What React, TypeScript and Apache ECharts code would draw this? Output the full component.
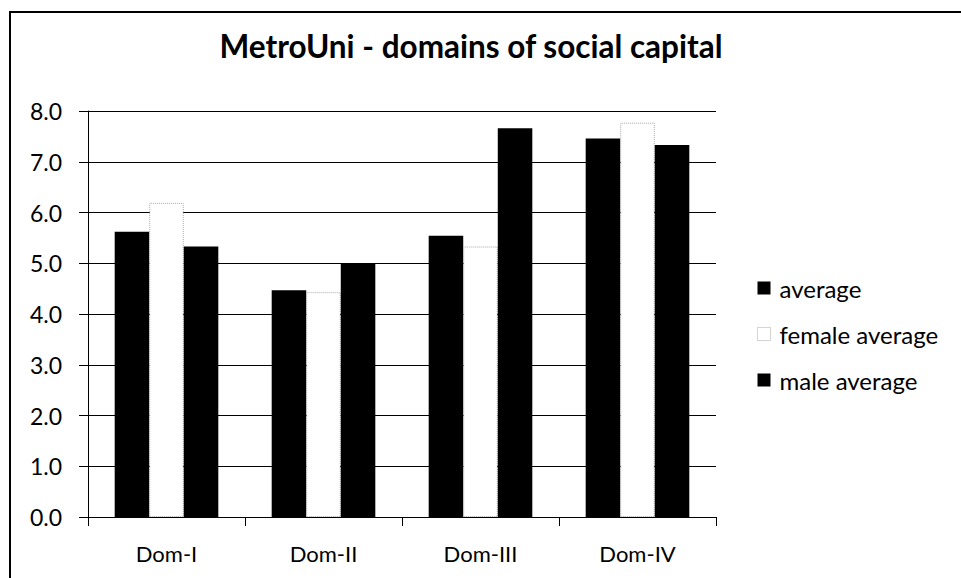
import React, { useEffect, useRef } from "react";
import * as echarts from "echarts";

const categories = ["Dom-I", "Dom-II", "Dom-III", "Dom-IV"];
const averageValues = [5.62, 4.47, 5.54, 7.46];
const femaleValues = [6.19, 4.43, 5.33, 7.77];
const maleValues = [5.33, 5.0, 7.66, 7.33];
const seriesNames = ["average", "female average", "male average"];
const chartTitle = "MetroUni - domains of social capital";

const FONT = "Lato, 'Open Sans', sans-serif";

export default function App() {
  const ref = useRef<HTMLDivElement>(null);

  useEffect(() => {
    if (!ref.current) return;
    const chart = echarts.init(ref.current, undefined, { renderer: "svg" });
    const femaleStyle = {
      color: "#ffffff",
      borderColor: "#a8a8a8",
      borderType: "dotted" as const,
      borderWidth: 1,
    };
    chart.setOption({
      animation: false,
      backgroundColor: "#ffffff",
      textStyle: { fontFamily: FONT, color: "#000" },
      title: {
        text: chartTitle,
        left: 466,
        textAlign: "center",
        top: 25,
        textStyle: { fontFamily: FONT, fontSize: 31.5, fontWeight: "bold", color: "#000" },
      },
      graphic: [
        {
          type: "rect",
          shape: { x: 10, y: 12, width: 980, height: 620 },
          style: { fill: "none", stroke: "#000", lineWidth: 2 },
          silent: true,
        },
      ],
      legend: {
        orient: "vertical",
        left: 752,
        top: 271,
        icon: "rect",
        itemWidth: 13,
        itemHeight: 13,
        itemGap: 22,
        textStyle: { fontFamily: FONT, fontSize: 24, color: "#000", padding: [0, 0, 0, 4] },
        data: [
          { name: seriesNames[0], itemStyle: { color: "#000" } },
          { name: seriesNames[1], itemStyle: femaleStyle },
          { name: seriesNames[2], itemStyle: { color: "#000" } },
        ],
      },
      grid: { left: 88, right: 245, top: 111, bottom: 61, containLabel: false },
      xAxis: {
        type: "category",
        data: categories,
        axisLine: { lineStyle: { color: "#000", width: 1 } },
        axisTick: { show: true, length: 9, lineStyle: { color: "#000" } },
        axisLabel: { fontFamily: FONT, fontSize: 22, color: "#000", margin: 25 },
      },
      yAxis: {
        type: "value",
        min: 0,
        max: 8,
        interval: 1,
        axisLine: { show: true, lineStyle: { color: "#000", width: 1 } },
        axisTick: { show: true, length: 9, lineStyle: { color: "#000" } },
        splitLine: { show: true, lineStyle: { color: "#000", width: 1 } },
        axisLabel: {
          fontFamily: FONT,
          fontSize: 23,
          color: "#000",
          margin: 26,
          formatter: (v: number) => v.toFixed(1),
        },
      },
      series: [
        {
          name: seriesNames[0],
          type: "bar",
          data: averageValues,
          barGap: "0%",
          barCategoryGap: "34%",
          itemStyle: { color: "#000" },
        },
        {
          name: seriesNames[1],
          type: "bar",
          data: femaleValues,
          barGap: "0%",
          barCategoryGap: "34%",
          itemStyle: femaleStyle,
        },
        {
          name: seriesNames[2],
          type: "bar",
          data: maleValues,
          barGap: "0%",
          barCategoryGap: "34%",
          itemStyle: { color: "#000" },
        },
      ],
    });
    return () => chart.dispose();
  }, []);

  return (
    <div
      ref={ref}
      style={{ position: "fixed", left: 0, top: 0, width: 961, height: 578 }}
    />
  );
}
